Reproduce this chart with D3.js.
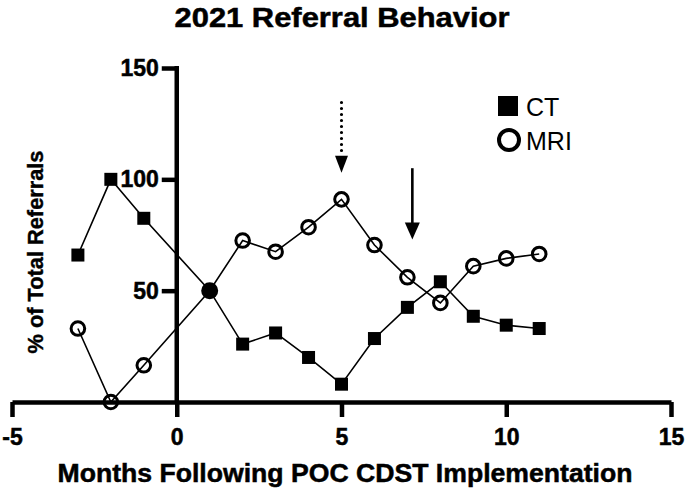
<!DOCTYPE html>
<html>
<head>
<meta charset="utf-8">
<script src="https://cdn.jsdelivr.net/npm/d3@7"></script>
<style>
  html, body { margin: 0; padding: 0; background: #fff; }
  svg { display: block; font-family: "Liberation Sans", Arial, sans-serif; }
</style>
</head>
<body>
<div id="chart"></div>
<script>
// ---- data ----
const months = [-3, -2, -1, 1, 2, 3, 4, 5, 6, 7, 8, 9, 10, 11];
const ctValues = [66, 100, 82.5, 50, 26, 31, 20, 8, 28.5, 42.5, 54, 38.5, 34.5, 33];
const mriValues = [33, 0, 16.5, 50, 72.5, 67.5, 78.5, 91, 70.5, 56, 44.5, 61, 64.5, 66.5];
const xTicks = [-5, 0, 5, 10, 15];
const yTicks = [50, 100, 150];
const seriesNames = ["CT", "MRI"];
const titleText = "2021 Referral Behavior";
const xTitle = "Months Following POC CDST Implementation";
const yTitle = "% of Total Referrals";
// annotation arrows (data coords): x, yStart, yEnd, style
const arrowX = [5, 7.15];
const arrowYStart = [134.5, 105];
const arrowYEnd = [103, 73];
const arrowStyle = ["dotted", "solid"];

const W = 685, H = 495;
const svg = d3.select("#chart").append("svg").attr("width", W).attr("height", H);

const x = d3.scaleLinear().domain([-5, 15]).range([12, 671]);
const y = d3.scaleLinear().domain([0, 150]).range([402, 68]);

const FONT = "Liberation Sans, Arial, sans-serif";

// title
svg.append("text")
  .attr("x", 342).attr("y", 27)
  .attr("text-anchor", "middle")
  .attr("font-size", 27).attr("font-weight", "bold")
  .attr("stroke", "#000").attr("stroke-width", 0.5)
  .attr("textLength", 335).attr("lengthAdjust", "spacingAndGlyphs")
  .text(titleText);

// axes
const xAxis = d3.axisBottom(x).tickValues(xTicks).tickSize(15).tickSizeOuter(0).tickPadding(12)
  .tickFormat(d => String(d));
const gx = svg.append("g").attr("transform", `translate(0,${y(0)})`).call(xAxis);
gx.select(".domain").attr("stroke", "#000").attr("stroke-width", 4.5);
gx.selectAll(".tick line").attr("stroke", "#000").attr("stroke-width", 4.5);
gx.selectAll(".tick text").attr("font-size", 23).attr("font-weight", "bold")
  .attr("font-family", FONT).attr("fill", "#000").attr("stroke", "#000").attr("stroke-width", 0.5);

const yAxis = d3.axisLeft(y).tickValues(yTicks).tickSize(15).tickSizeOuter(0).tickPadding(3)
  .tickFormat(d => String(d));
const gy = svg.append("g").attr("transform", `translate(${x(0)},0)`).call(yAxis);
gy.select(".domain").attr("stroke", "#000").attr("stroke-width", 4.5)
  .attr("d", `M0,${y(150) - 2}V${y(0)}`);
gy.selectAll(".tick line").attr("stroke", "#000").attr("stroke-width", 4.5);
gy.selectAll(".tick text").attr("font-size", 23).attr("font-weight", "bold")
  .attr("font-family", FONT).attr("fill", "#000").attr("stroke", "#000").attr("stroke-width", 0.5);

// axis titles
svg.append("text")
  .attr("x", 345).attr("y", 482)
  .attr("text-anchor", "middle")
  .attr("font-size", 25).attr("font-weight", "bold")
  .attr("stroke", "#000").attr("stroke-width", 0.5)
  .attr("textLength", 575).attr("lengthAdjust", "spacingAndGlyphs")
  .text(xTitle);

svg.append("text")
  .attr("transform", "translate(43,252) rotate(-90)")
  .attr("text-anchor", "middle")
  .attr("font-size", 22).attr("font-weight", "bold")
  .attr("stroke", "#000").attr("stroke-width", 0.4)
  .attr("textLength", 203).attr("lengthAdjust", "spacingAndGlyphs")
  .text(yTitle);

// lines
const line = d3.line().x(d => x(d[0])).y(d => y(d[1]));
const ctData = months.map((m, i) => [m, ctValues[i]]);
const mriData = months.map((m, i) => [m, mriValues[i]]);

svg.append("path").datum(ctData).attr("d", line)
  .attr("fill", "none").attr("stroke", "#000").attr("stroke-width", 1.6);
svg.append("path").datum(mriData).attr("d", line)
  .attr("fill", "none").attr("stroke", "#000").attr("stroke-width", 1.6);

// markers
const sq = 13;
svg.append("g").selectAll("rect")
  .data(ctData.filter((d, i) => ctValues[i] !== mriValues[i]))
  .join("rect")
  .attr("x", d => x(d[0]) - sq / 2).attr("y", d => y(d[1]) - sq / 2)
  .attr("width", sq).attr("height", sq).attr("fill", "#000");

svg.append("g").selectAll("circle")
  .data(mriData.filter((d, i) => ctValues[i] !== mriValues[i]))
  .join("circle")
  .attr("cx", d => x(d[0])).attr("cy", d => y(d[1]))
  .attr("r", 6.8).attr("fill", "none").attr("stroke", "#000").attr("stroke-width", 3);

// coincident point (CT = MRI)
svg.append("g").selectAll("circle")
  .data(mriData.filter((d, i) => ctValues[i] === mriValues[i]))
  .join("circle")
  .attr("cx", d => x(d[0])).attr("cy", d => y(d[1]))
  .attr("r", 8.5).attr("fill", "#000");

// arrows
arrowX.forEach((ax, i) => {
  const px = x(ax);
  const y0 = y(arrowYStart[i]);
  const y1 = y(arrowYEnd[i]);
  const headH = 17, headW = arrowStyle[i] === "dotted" ? 13 : 15;
  if (arrowStyle[i] === "dotted") {
    svg.append("line")
      .attr("x1", px).attr("x2", px).attr("y1", y0).attr("y2", y1 - headH - 4)
      .attr("stroke", "#000").attr("stroke-width", 3.2)
      .attr("stroke-linecap", "round").attr("stroke-dasharray", "0,6");
  } else {
    svg.append("line")
      .attr("x1", px).attr("x2", px).attr("y1", y0).attr("y2", y1 - headH + 1)
      .attr("stroke", "#000").attr("stroke-width", 2.6);
  }
  svg.append("path")
    .attr("d", `M${px - headW / 2},${y1 - headH}L${px + headW / 2},${y1 - headH}L${px},${y1}Z`)
    .attr("fill", "#000");
});

// legend
const lg = svg.append("g");
lg.append("rect").attr("x", 498).attr("y", 96).attr("width", 20).attr("height", 20).attr("fill", "#000");
lg.append("circle").attr("cx", 509).attr("cy", 140).attr("r", 10).attr("fill", "none")
  .attr("stroke", "#000").attr("stroke-width", 4);
lg.append("text").attr("x", 526).attr("y", 116).attr("font-size", 25).text(seriesNames[0]);
lg.append("text").attr("x", 526).attr("y", 150).attr("font-size", 25).text(seriesNames[1]);
</script>
</body>
</html>
